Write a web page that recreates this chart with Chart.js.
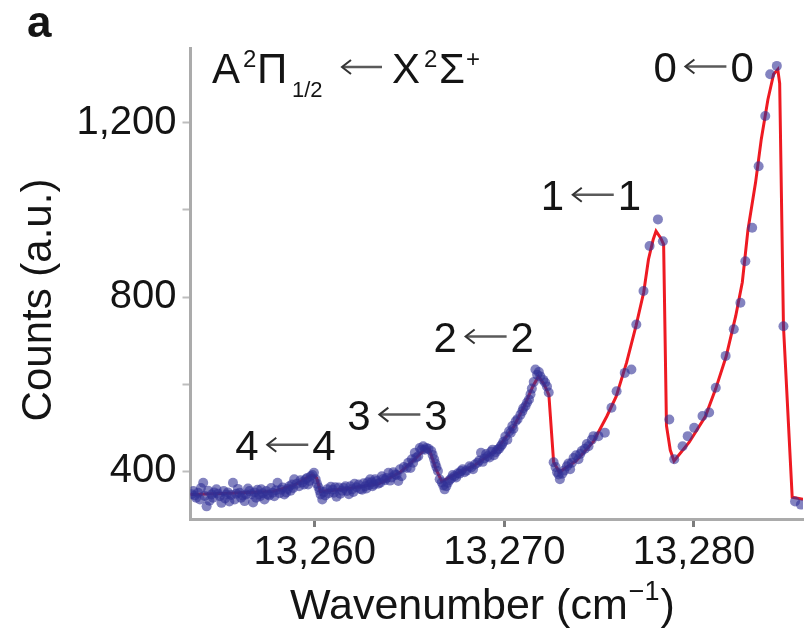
<!DOCTYPE html>
<html>
<head>
<meta charset="utf-8">
<title>A-X spectrum</title>
<script src="https://cdn.jsdelivr.net/npm/chart.js@4.4.0/dist/chart.umd.min.js"></script>
<style>
  html, body { margin: 0; padding: 0; background: #fff; overflow: hidden; }
  #wrap { position: relative; width: 808px; height: 632px; }
</style>
</head>
<body>
<div id="wrap"><canvas id="spectrum" width="808" height="632"></canvas></div>
<script>
// Scan points: wavenumber (cm^-1) and counts
const scanWavenumber = [
  13253.50, 13253.60, 13253.68, 13253.75, 13253.85, 13253.95, 13254.00, 13254.12, 13254.20, 13254.30,
  13254.38, 13254.45, 13254.56, 13254.64, 13254.70, 13254.82, 13254.90, 13255.00, 13255.08, 13255.20,
  13255.27, 13255.35, 13255.42, 13255.50, 13255.60, 13255.69, 13255.78, 13255.87, 13255.95, 13256.04,
  13256.12, 13256.20, 13256.30, 13256.38, 13256.48, 13256.56, 13256.65, 13256.75, 13256.83, 13256.91,
  13256.98, 13257.05, 13257.12, 13257.18, 13257.27, 13257.35, 13257.44, 13257.52, 13257.60, 13257.70,
  13257.78, 13257.87, 13257.95, 13258.04, 13258.15, 13258.22, 13258.31, 13258.40, 13258.50, 13258.58,
  13258.66, 13258.73, 13258.80, 13258.86, 13258.92, 13259.05, 13259.18, 13259.25, 13259.35, 13259.44,
  13259.53, 13259.60, 13259.65, 13259.72, 13259.79, 13259.88, 13259.96, 13260.05, 13260.12, 13260.20,
  13260.26, 13260.31, 13260.40, 13260.48, 13260.55, 13260.66, 13260.75, 13260.85, 13260.95, 13261.01,
  13261.08, 13261.15, 13261.27, 13261.35, 13261.45, 13261.53, 13261.62, 13261.70, 13261.80, 13261.88,
  13261.97, 13262.04, 13262.10, 13262.20, 13262.32, 13262.41, 13262.50, 13262.58, 13262.67, 13262.73,
  13262.80, 13262.87, 13262.93, 13263.00, 13263.05, 13263.12, 13263.19, 13263.27, 13263.35, 13263.45,
  13263.54, 13263.62, 13263.70, 13263.79, 13263.89, 13263.97, 13264.05, 13264.15, 13264.24, 13264.32,
  13264.41, 13264.50, 13264.58, 13264.70, 13264.85, 13264.93, 13265.05, 13265.12, 13265.19, 13265.28,
  13265.36, 13265.46, 13265.54, 13265.63, 13265.72, 13265.81, 13265.89, 13266.00, 13266.15, 13266.22,
  13266.30, 13266.36, 13266.42, 13266.50, 13266.59, 13266.70, 13266.78, 13266.85, 13266.94, 13267.02,
  13267.10, 13267.20, 13267.28, 13267.37, 13267.46, 13267.55, 13267.63, 13267.72, 13267.80, 13267.90,
  13268.00, 13268.16, 13268.25, 13268.35, 13268.45, 13268.59, 13268.68, 13268.77, 13268.86, 13268.95,
  13269.04, 13269.12, 13269.22, 13269.30, 13269.38, 13269.45, 13269.55, 13269.64, 13269.72, 13269.81,
  13269.88, 13269.95, 13270.05, 13270.16, 13270.25, 13270.34, 13270.42, 13270.48, 13270.60, 13270.70,
  13270.85, 13270.95, 13271.00, 13271.12, 13271.20, 13271.30, 13271.38, 13271.45, 13271.55, 13271.64,
  13271.73, 13271.82, 13271.90, 13272.05, 13272.15, 13272.25, 13272.34, 13272.60, 13272.70, 13272.78,
  13272.86, 13272.93, 13273.05, 13273.15, 13273.30, 13273.38, 13273.47, 13273.56, 13273.65, 13273.78,
  13273.91, 13274.00, 13274.08, 13274.25, 13274.35, 13274.44, 13274.61, 13274.70, 13274.96, 13275.30,
  13275.65, 13275.92, 13276.35, 13276.70, 13276.96, 13277.34, 13277.66, 13278.10, 13278.36, 13278.70,
  13278.96, 13279.40, 13279.67, 13280.01, 13280.45, 13280.80, 13281.15, 13281.67, 13282.10, 13282.45,
  13282.71, 13283.07, 13283.41, 13283.76, 13284.02, 13284.37, 13284.72, 13285.33, 13285.64
];
const scanCounts = [
  348, 355, 345, 340, 351, 336, 362, 374, 344, 320,
  356, 333, 347, 340, 352, 359, 349, 343, 328, 355,
  338, 347, 352, 331, 346, 374, 336, 349, 360, 351,
  340, 345, 332, 347, 361, 355, 348, 329, 352, 340,
  358, 347, 343, 359, 350, 336, 355, 347, 345, 362,
  351, 343, 357, 374, 350, 358, 363, 347, 352, 360,
  366, 356, 370, 362, 382, 372, 366, 380, 375, 370,
  382, 385, 370, 378, 389, 392, 397, 382, 372, 364,
  356, 347, 336, 353, 345, 359, 350, 365, 358, 351,
  364, 342, 363, 349, 356, 362, 366, 355, 348, 366,
  359, 353, 372, 364, 370, 360, 358, 373, 366, 361,
  375, 369, 382, 375, 366, 370, 382, 378, 372, 374,
  389, 383, 380, 385, 397, 379, 386, 398, 393, 392,
  378, 405, 389, 410, 408, 420, 408, 428, 420, 443,
  432, 435, 454, 450, 458, 450, 454, 452, 447, 438,
  428, 418, 410, 401, 382, 375, 368, 359, 366, 374,
  380, 384, 392, 389, 386, 396, 395, 401, 405, 398,
  402, 412, 409, 405, 416, 420, 425, 443, 422, 430,
  440, 435, 432, 445, 450, 437, 444, 450, 452, 458,
  462, 468, 480, 473, 492, 489, 504, 498, 515, 520,
  530, 538, 545, 550, 558, 565, 577, 590, 605, 634,
  622, 628, 618, 610, 604, 595, 581, 421, 410, 398,
  393, 382, 395, 402, 412, 418, 405, 420, 431, 437,
  428, 440, 447, 452, 463, 458, 473, 481, 481, 489,
  546, 584, 626, 634, 737, 814, 917, 978, 928, 519,
  428, 458, 481, 500, 527, 535, 592, 665, 726, 787,
  882, 959, 1100, 1215, 1311, 1330, 733, 331, 324
];

// Fitted spectrum
const fitWavenumber = [
  13253.45, 13255.50, 13257.80, 13258.90, 13259.85, 13260.10, 13260.30, 13261.80, 13263.40, 13264.50,
  13265.10, 13265.85, 13266.05, 13266.40, 13266.70, 13267.50, 13268.40, 13269.60, 13270.50, 13271.05,
  13271.50, 13271.80, 13272.10, 13272.35, 13272.60, 13272.90, 13273.80, 13274.70, 13275.40, 13275.90,
  13276.45, 13276.95, 13277.35, 13277.60, 13277.85, 13278.00, 13278.25, 13278.40, 13278.55, 13278.75,
  13278.95, 13279.75, 13280.60, 13281.15, 13281.70, 13282.20, 13282.55, 13282.85, 13283.25, 13283.55,
  13283.90, 13284.20, 13284.42, 13284.52, 13284.72, 13285.18, 13285.75
];
const fitCounts = [
  347, 350, 354, 368, 392, 385, 354, 361, 372, 398,
  421, 453, 450, 405, 377, 395, 413, 450, 503, 549,
  595, 618, 600, 575, 421, 398, 425, 469, 526, 572,
  650, 735, 811, 886, 932, 951, 935, 921, 505, 449,
  424, 467, 526, 590, 664, 756, 834, 955, 1063, 1162,
  1253, 1311, 1322, 1290, 733, 341, 336
];

const xTickValues = [13260, 13270, 13280];
const yTickValues = [400, 600, 800, 1000, 1200];
const yLabelledTicks = [400, 800, 1200];

// vibrational band labels v'<-v'' (centre wavenumber, baseline counts)
const bandLabels = [
  { v: '4', x: 13258.50, y: 427 },
  { v: '3', x: 13264.41, y: 496 },
  { v: '2', x: 13268.96, y: 675 },
  { v: '1', x: 13274.61, y: 1000 },
  { v: '0', x: 13280.55, y: 1294 }
];

const FONT = '"Liberation Sans", Arial, Helvetica, sans-serif';
const INK = '#141414';
const ARROW = '#5a5a5a';

function toXY(xs, ys) {
  return xs.map((x, i) => ({ x: x, y: ys[i] }));
}

// left-pointing arrow: chevron tip at x0, shaft to x1
function drawArrow(ctx, x0, x1, y) {
  ctx.save();
  ctx.strokeStyle = ARROW;
  ctx.lineWidth = 2.5;
  ctx.beginPath();
  ctx.moveTo(x0 + 1, y);
  ctx.lineTo(x1, y);
  ctx.stroke();
  ctx.strokeStyle = '#333';
  ctx.lineWidth = 2;
  ctx.beginPath();
  ctx.moveTo(x0 + 9, y - 7);
  ctx.lineTo(x0, y);
  ctx.lineTo(x0 + 9, y + 7);
  ctx.stroke();
  ctx.restore();
}

const figureText = {
  id: 'figureText',
  afterDraw(chart) {
    const ctx = chart.ctx;
    const xs = chart.scales.x;
    const ys = chart.scales.y;
    ctx.save();
    ctx.fillStyle = INK;
    ctx.textBaseline = 'alphabetic';
    ctx.textAlign = 'left';

    // panel letter
    ctx.font = 'bold 44px ' + FONT;
    ctx.fillText('a', 27, 37);

    // transition label
    ctx.font = '42px ' + FONT;
    ctx.fillText('A', 212, 83);
    ctx.font = '24px ' + FONT;
    ctx.fillText('2', 243, 67);
    ctx.font = '42px ' + FONT;
    ctx.fillText('\u03A0', 257, 83);
    ctx.font = '22px ' + FONT;
    ctx.fillText('1/2', 292, 97);
    drawArrow(ctx, 342, 382, 67);
    ctx.font = '42px ' + FONT;
    ctx.fillText('X', 392, 83);
    ctx.font = '24px ' + FONT;
    ctx.fillText('2', 424, 67);
    ctx.font = '42px ' + FONT;
    ctx.fillText('\u03A3', 439, 83);
    ctx.font = '24px ' + FONT;
    ctx.fillText('+', 466, 67);

    // band labels
    ctx.font = '42px ' + FONT;
    bandLabels.forEach(b => {
      const cx = xs.getPixelForValue(b.x);
      const by = ys.getPixelForValue(b.y);
      ctx.fillText(b.v, cx - 51, by);
      drawArrow(ctx, cx - 19, cx + 22, by - 15);
      ctx.fillText(b.v, cx + 26, by);
    });

    // x axis title
    ctx.font = '43px ' + FONT;
    const base = 'Wavenumber (cm';
    let tx = 290;
    ctx.fillText(base, tx, 619);
    tx += ctx.measureText(base).width;
    ctx.font = '27px ' + FONT;
    ctx.fillText('\u22121', tx + 1, 600);
    tx += ctx.measureText('\u22121').width + 2;
    ctx.font = '43px ' + FONT;
    ctx.fillText(')', tx, 619);

    // y axis title
    ctx.font = '42px ' + FONT;
    ctx.translate(51, 300);
    ctx.rotate(-Math.PI / 2);
    ctx.textAlign = 'center';
    ctx.fillText('Counts (a.u.)', 0, 0);
    ctx.restore();
  }
};

new Chart(document.getElementById('spectrum'), {
  type: 'scatter',
  data: {
    datasets: [
      {
        label: 'Data',
        data: toXY(scanWavenumber, scanCounts),
        showLine: false,
        pointRadius: 5,
        pointHoverRadius: 5,
        pointBorderWidth: 0,
        backgroundColor: 'rgba(48, 48, 150, 0.6)',
        borderColor: 'rgba(48, 48, 150, 0.6)',
        order: 0
      },
      {
        label: 'Fit',
        data: toXY(fitWavenumber, fitCounts),
        showLine: true,
        pointRadius: 0,
        borderColor: '#ee1a22',
        borderWidth: 3,
        tension: 0,
        order: 1
      }
    ]
  },
  options: {
    responsive: false,
    animation: false,
    events: [],
    layout: { padding: { top: 48, left: 0, right: 0, bottom: 0 } },
    plugins: {
      legend: { display: false },
      tooltip: { enabled: false }
    },
    scales: {
      x: {
        type: 'linear',
        min: 13253.45,
        max: 13285.75,
        afterFit(scale) { scale.height = 113; },
        afterBuildTicks(scale) { scale.ticks = xTickValues.map(v => ({ value: v })); },
        grid: { drawOnChartArea: false, drawTicks: true, tickLength: 8, tickWidth: 3, tickColor: '#7c7c7c' },
        border: { color: '#ababab', width: 3 },
        ticks: {
          autoSkip: false,
          maxRotation: 0,
          padding: 2,
          color: INK,
          font: { family: FONT, size: 40 },
          callback: v => v.toLocaleString('en-US')
        }
      },
      y: {
        type: 'linear',
        min: 291,
        max: 1371,
        afterFit(scale) { scale.width = 190.5; },
        afterBuildTicks(scale) { scale.ticks = yTickValues.map(v => ({ value: v })); },
        grid: { drawOnChartArea: false, drawTicks: true, tickLength: 8, tickWidth: 2, tickColor: '#bdbdbd' },
        border: { color: '#ababab', width: 3 },
        ticks: {
          autoSkip: false,
          padding: 6,
          color: INK,
          font: { family: FONT, size: 40 },
          callback: v => yLabelledTicks.includes(v) ? v.toLocaleString('en-US') : ''
        }
      }
    }
  },
  plugins: [figureText]
});
</script>
</body>
</html>
